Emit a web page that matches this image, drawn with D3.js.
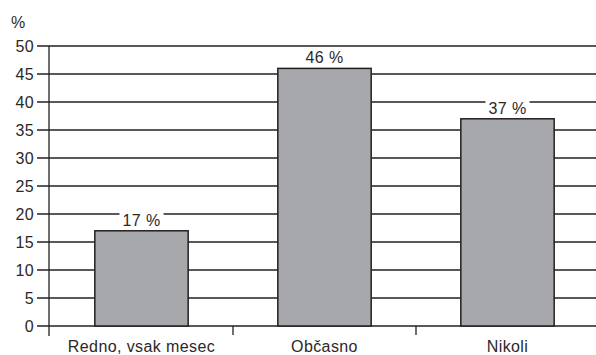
<!DOCTYPE html>
<html>
<head>
<meta charset="utf-8">
<script src="https://cdn.jsdelivr.net/npm/d3@7"></script>
<style>
  html, body { margin: 0; padding: 0; background: #fff; }
  svg { display: block; }
  text { font-family: "Liberation Sans", Arial, Helvetica, sans-serif; fill: #2b2829; letter-spacing: 0.4px; }
</style>
</head>
<body>
<svg id="chart" width="596" height="355"></svg>
<script>
// Survey answers and their shares in percent
const categories = ["Redno, vsak mesec", "Občasno", "Nikoli"];
const values = [17, 46, 37];
const yTicks = [0, 5, 10, 15, 20, 25, 30, 35, 40, 45, 50];
const unitLabel = "%";

const W = 596;
const axisX = 49;
const plotTop = 46, plotBottom = 326;
const ink = "#231f20";
const fs = 16;

const svg = d3.select("#chart");

const y = d3.scaleLinear().domain([0, 50]).range([plotBottom, plotTop]);
const x = d3.scaleBand().domain(categories).range([50, 599]).padding(0);
const barW = x.bandwidth() * 0.51;

// horizontal gridlines, extending left past the axis as tick marks
svg.append("g")
  .selectAll("line")
  .data(yTicks)
  .join("line")
  .attr("x1", 37).attr("x2", W)
  .attr("y1", d => y(d)).attr("y2", d => y(d))
  .attr("stroke", ink).attr("stroke-width", 1.3);

// y tick labels
svg.append("g")
  .selectAll("text")
  .data(yTicks)
  .join("text")
  .attr("x", 34)
  .attr("y", d => y(d))
  .attr("dy", "0.36em")
  .attr("text-anchor", "end")
  .attr("font-size", fs)
  .text(d => d);

// unit label above the axis
svg.append("text")
  .attr("x", 11).attr("y", 27.5)
  .attr("font-size", fs)
  .text(unitLabel);

// vertical axis line
svg.append("line")
  .attr("x1", axisX).attr("x2", axisX)
  .attr("y1", y(50)).attr("y2", 336)
  .attr("stroke", ink).attr("stroke-width", 1.3);

// category separators below the baseline
const seps = categories.slice(1).map(c => x(c));
svg.append("g")
  .selectAll("line")
  .data(seps)
  .join("line")
  .attr("x1", d => d).attr("x2", d => d)
  .attr("y1", plotBottom).attr("y2", 335)
  .attr("stroke", ink).attr("stroke-width", 1.3);

// bars
const data = categories.map((c, i) => ({ c, v: values[i] }));
svg.append("g")
  .selectAll("rect")
  .data(data)
  .join("rect")
  .attr("x", d => x(d.c) + x.bandwidth() / 2 - barW / 2)
  .attr("width", barW)
  .attr("y", d => y(d.v))
  .attr("height", d => y(0) - y(d.v))
  .attr("fill", "#a7a8ab")
  .attr("stroke", ink).attr("stroke-width", 1.5);

// value labels on white backing so gridlines break around them
const lbl = svg.append("g")
  .selectAll("g")
  .data(data)
  .join("g")
  .attr("transform", d => `translate(${x(d.c) + x.bandwidth() / 2},${y(d.v) - 5})`);
lbl.append("text")
  .attr("text-anchor", "middle")
  .attr("font-size", fs)
  .text(d => d.v + " %");
lbl.each(function () {
  const g = d3.select(this);
  const bb = g.select("text").node().getBBox();
  g.insert("rect", "text")
    .attr("x", bb.x - 3).attr("y", bb.y)
    .attr("width", bb.width + 6).attr("height", bb.height)
    .attr("fill", "#fff");
});

// category labels
svg.append("g")
  .selectAll("text")
  .data(categories)
  .join("text")
  .attr("x", d => x(d) + x.bandwidth() / 2)
  .attr("y", 351.5)
  .attr("text-anchor", "middle")
  .attr("font-size", fs)
  .text(d => d);
</script>
</body>
</html>
